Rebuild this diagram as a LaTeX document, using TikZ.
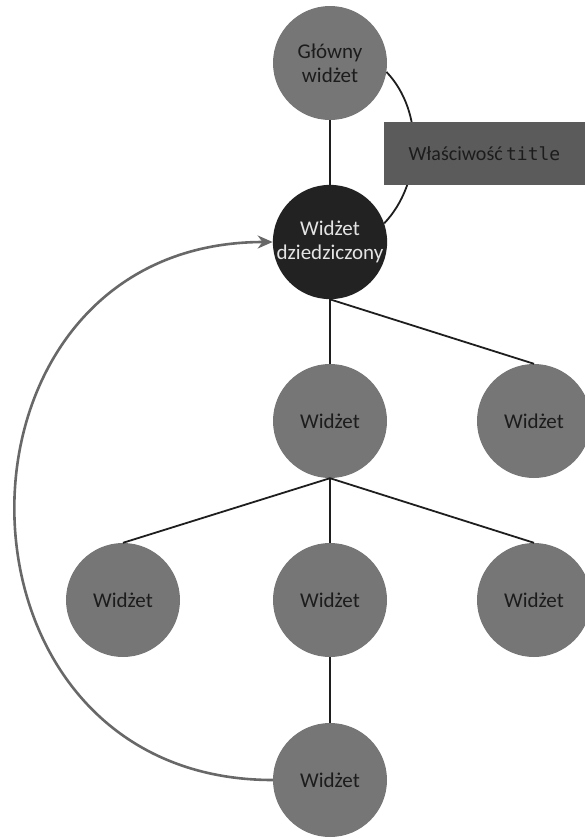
\documentclass[tikz,border=0pt]{standalone}
\usepackage{fontspec}
\setmainfont{Carlito}
\setmonofont{DejaVu Sans Mono}
\usetikzlibrary{arrows.meta}
\definecolor{circgray}{HTML}{767676}
\definecolor{boxgray}{HTML}{5B5B5B}
\definecolor{darknode}{HTML}{222222}
\definecolor{linecol}{HTML}{1E1E1E}
\definecolor{arrowcol}{HTML}{686868}
\definecolor{textdark}{HTML}{1C1C1C}
\definecolor{textlight}{HTML}{E4E4E4}
\tikzset{
  widget/.style={circle, fill=circgray, minimum size=114pt, inner sep=0pt,
    align=center, text=textdark, font=\fontsize{21}{24}\selectfont},
  darkwidget/.style={widget, fill=darknode, text=textlight},
  link/.style={draw=linecol, line width=1.8pt},
  backarrow/.style={draw=arrowcol, line width=2.6pt, -{Stealth[length=15pt,width=13pt]}},
  propbox/.style={rectangle, fill=boxgray, minimum width=201pt, minimum height=63pt,
    inner sep=0pt, text=textdark, font=\fontsize{20}{22}\selectfont}
}
\begin{document}
\begin{tikzpicture}[x=1pt,y=-1pt]
\useasboundingbox (0,0) rectangle (585,839);
\node[widget] (g) at (330,63) {Główny\\widżet};
\node[darkwidget] (d) at (330,242) {Widżet\\dziedziczony};
\node[widget] (m) at (330,421) {Widżet};
\node[widget] (r) at (534,421) {Widżet};
\node[widget] (l3) at (123,600) {Widżet};
\node[widget] (c3) at (330,600) {Widżet};
\node[widget] (r3) at (534,600) {Widżet};
\node[widget] (b) at (330,780) {Widżet};
\draw[link] (g) -- (d);
\draw[link] (d.south) -- (m.north);
\draw[link] (d.south) -- (r.north);
\draw[link] (m.south) -- (l3.north);
\draw[link] (m.south) -- (c3.north);
\draw[link] (m.south) -- (r3.north);
\draw[link] (c3) -- (b);
\draw[link] (g.-9) .. controls +(38,40) and +(38,-40) .. (d.19);
\node[propbox] (p) at (484.5,153.5) {Właściwość\,{\fontsize{18}{22}\selectfont\texttt{title}}};
\draw[backarrow] (b.west) .. controls +(-343,0) and +(-343,0) .. (d.west);
\end{tikzpicture}
\end{document}
